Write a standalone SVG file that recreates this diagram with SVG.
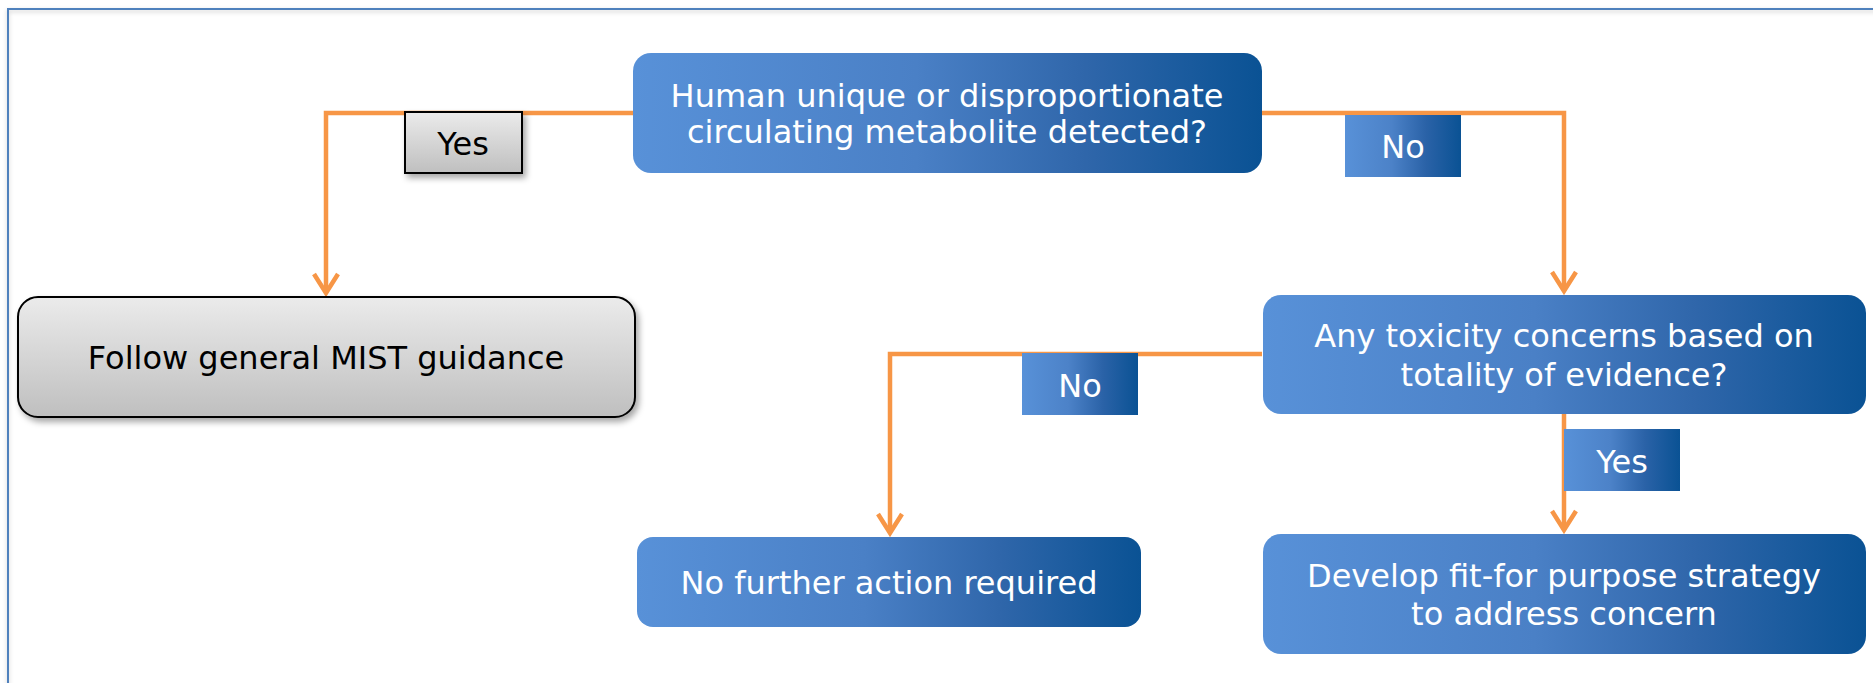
<svg xmlns="http://www.w3.org/2000/svg" width="1873" height="683" viewBox="0 0 1873 683">
<style>
.t{font-family:"DejaVu Sans","Verdana",sans-serif;font-size:32px;text-anchor:middle}
.w{fill:#ffffff}
.k{fill:#000000}
.c{fill:none;stroke:#f79646;stroke-width:4.5;stroke-linejoin:miter}
</style>
<defs>
<linearGradient id="blue" x1="0" y1="0" x2="1" y2="0">
<stop offset="0" stop-color="#5891d8"/>
<stop offset="0.45" stop-color="#4a80c6"/>
<stop offset="0.72" stop-color="#2f66aa"/>
<stop offset="1" stop-color="#0a5294"/>
</linearGradient>
<linearGradient id="blueL" x1="0" y1="0" x2="1" y2="0">
<stop offset="0" stop-color="#5891d8"/>
<stop offset="0.4" stop-color="#4c82c8"/>
<stop offset="0.7" stop-color="#2a62a7"/>
<stop offset="1" stop-color="#0a5294"/>
</linearGradient>
<linearGradient id="gray" x1="0" y1="0" x2="0" y2="1">
<stop offset="0" stop-color="#ebebeb"/>
<stop offset="1" stop-color="#bfbfbf"/>
</linearGradient>
<filter id="sh" x="-10%" y="-20%" width="120%" height="150%">
<feDropShadow dx="3" dy="4" stdDeviation="3" flood-color="#000" flood-opacity="0.35"/>
</filter>
<filter id="fsh" x="-5%" y="-50%" width="110%" height="300%">
<feDropShadow dx="0" dy="2" stdDeviation="2" flood-color="#000" flood-opacity="0.2"/>
</filter>
<marker id="arr" markerUnits="userSpaceOnUse" markerWidth="40" markerHeight="40" viewBox="-30 -20 40 40" refX="0" refY="0" orient="auto" overflow="visible">
<path d="M-19,-12 L0,0 L-19,12" fill="none" stroke="#f79646" stroke-width="4.5" stroke-linejoin="miter"/>
</marker>
</defs>
<rect x="0" y="0" width="1873" height="683" fill="#ffffff"/>
<g id="frame">
<rect x="8" y="9" width="1900" height="720" fill="none" stroke="#4f81bd" stroke-width="2" filter="url(#fsh)"/>
</g>
<g id="connectors">
<path class="c" d="M633,113 H326 V293" marker-end="url(#arr)"/>
<path class="c" d="M1262,113 H1564 V291" marker-end="url(#arr)"/>
<path class="c" d="M1262,354 H890 V533" marker-end="url(#arr)"/>
<path class="c" d="M1564,414 V530" marker-end="url(#arr)"/>
</g>
<g id="n-top">
<rect x="633" y="53" width="629" height="120" rx="18" fill="url(#blue)"/>
<text class="t w" x="947" y="107">Human unique or disproportionate</text>
<text class="t w" x="947" y="143">circulating metabolite detected?</text>
</g>
<g id="n-mist">
<rect x="18" y="297" width="617" height="120" rx="20" fill="url(#gray)" stroke="#000" stroke-width="2" filter="url(#sh)"/>
<text class="t k" x="326" y="369">Follow general MIST guidance</text>
</g>
<g id="n-tox">
<rect x="1263" y="295" width="603" height="119" rx="18" fill="url(#blue)"/>
<text class="t w" x="1564" y="347">Any toxicity concerns based on</text>
<text class="t w" x="1564" y="386">totality of evidence?</text>
</g>
<g id="n-noaction">
<rect x="637" y="537" width="504" height="90" rx="16" fill="url(#blue)"/>
<text class="t w" x="889" y="594">No further action required</text>
</g>
<g id="n-develop">
<rect x="1263" y="534" width="603" height="120" rx="18" fill="url(#blue)"/>
<text class="t w" x="1564" y="587">Develop fit-for purpose strategy</text>
<text class="t w" x="1564" y="625">to address concern</text>
</g>
<g id="l-yes1">
<rect x="405" y="112" width="117" height="61" fill="url(#gray)" stroke="#000" stroke-width="2" filter="url(#sh)"/>
<text class="t k" x="463" y="155">Yes</text>
</g>
<g id="l-no1">
<rect x="1345" y="115" width="116" height="62" fill="url(#blueL)"/>
<text class="t w" x="1403" y="158">No</text>
</g>
<g id="l-no2">
<rect x="1022" y="353" width="116" height="62" fill="url(#blueL)"/>
<text class="t w" x="1080" y="397">No</text>
</g>
<g id="l-yes2">
<rect x="1564" y="429" width="116" height="62" fill="url(#blueL)"/>
<text class="t w" x="1622" y="473">Yes</text>
</g>
</svg>
